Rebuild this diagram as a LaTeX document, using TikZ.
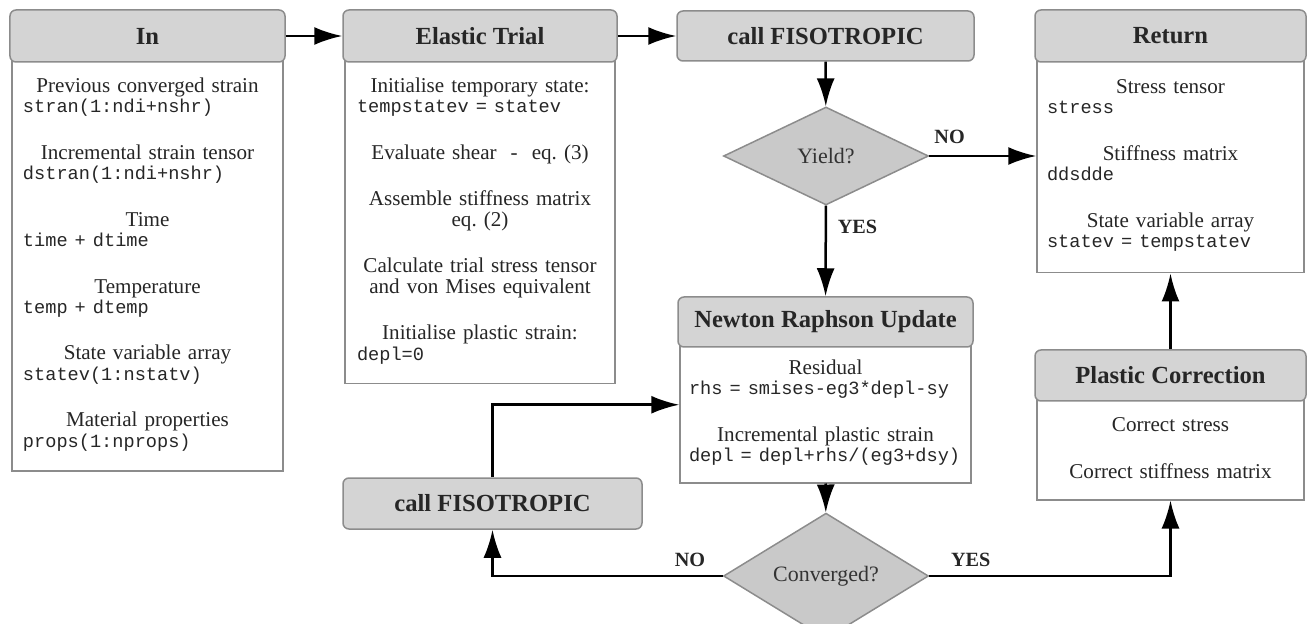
\documentclass[tikz,border=0pt]{standalone}
\usepackage{fontspec}
\setmainfont{Liberation Serif}
\setmonofont{Liberation Mono}
\usetikzlibrary{shapes.geometric,arrows.meta}

\definecolor{boxline}{rgb}{0.55,0.55,0.55}
\definecolor{headfill}{rgb}{0.83,0.83,0.83}
\definecolor{decfill}{rgb}{0.79,0.79,0.79}

% fortran names, left aligned in the box
\newcommand{\codeln}[1]{\makebox[\linewidth][l]{\fontsize{10.6pt}{11.5pt}\ttfamily #1}}

\tikzset{
  head/.style={draw=boxline, fill=headfill, line width=0.03cm, rounded corners=0.12cm,
    inner sep=0pt, minimum height=1.04cm, text=black!85,
    font=\fontsize{14pt}{16pt}\selectfont\bfseries},
  body/.style={draw=boxline, fill=white, line width=0.03cm, anchor=north, inner sep=0pt,
    align=center, text=black!85, font=\fontsize{12pt}{11.5pt}\selectfont},
  decision/.style={diamond, draw=boxline, fill=decfill, line width=0.03cm, inner sep=0pt,
    minimum width=4.1cm, minimum height=1.96cm, text=black!80,
    font=\fontsize{12.5pt}{14pt}\selectfont},
  flow/.style={line width=0.05cm, -{Latex[length=0.56cm,width=0.36cm]}},
  answer/.style={text=black!85, font=\fontsize{11.5pt}{13pt}\selectfont\bfseries}
}

\begin{document}
\begin{tikzpicture}
                \useasboundingbox (0,0) rectangle (26.18,-12.48);
                % input
                \node[body, text width=4.98cm, minimum width=5.42cm, minimum height=8.26cm] (inbody) at (2.95,-1.14) {
                    Previous converged strain\\
                    \codeln{stran(1:ndi+nshr)}\\[15.1pt]
                    Incremental strain tensor\\
                    \codeln{dstran(1:ndi+nshr)}\\[15.1pt]
                    Time\\
                    \codeln{time + dtime}\\[15.1pt]
                    Temperature\\
                    \codeln{temp + dtemp}\\[15.1pt]
                    State variable array\\
                    \codeln{statev(1:nstatv)}\\[15.1pt]
                    Material properties\\
                    \codeln{props(1:nprops)}};
                \node[head, minimum width=5.5cm] (inhead) at (2.95,-0.72) {In};
                % elastic trial
                \node[body, text width=4.92cm, minimum width=5.4cm, minimum height=6.52cm] (elbody) at (9.6,-1.14) {
                    Initialise temporary state:\\
                    \codeln{tempstatev = statev}\\[15.1pt]
                    Evaluate shear\ \ -\ \ eq.\ (3)\\[15.1pt]
                    Assemble stiffness matrix\\
                    eq.\ (2)\\[15.1pt]
                    Calculate trial stress tensor\\
                    and von Mises equivalent\\[15.1pt]
                    Initialise plastic strain:\\
                    \codeln{depl=0}};
                \node[head, minimum width=5.48cm] (elhead) at (9.6,-0.72) {Elastic Trial};
                % hardening call and yield check
                \node[head, minimum width=5.94cm, minimum height=1.0cm] (callA) at (16.51,-0.72) {call FISOTROPIC};
                \node[decision] (yield) at (16.52,-3.12) {Yield?};
                % output
                \node[body, text width=4.94cm, minimum width=5.34cm, minimum height=4.3cm] (retbody) at (23.41,-1.14) {
                    Stress tensor\\
                    \codeln{stress}\\[15.1pt]
                    Stiffness matrix\\
                    \codeln{ddsdde}\\[15.1pt]
                    State variable array\\
                    \codeln{statev = tempstatev}};
                \node[head, minimum width=5.42cm] (rethead) at (23.41,-0.72) {Return};
                % newton raphson loop
                \node[body, text width=5.46cm, minimum width=5.82cm, minimum height=2.8cm] (nrbody) at (16.51,-6.84) {
                    Residual\\
                    \codeln{rhs = smises-eg3*depl-sy}\\[15.1pt]
                    Incremental plastic strain\\
                    \codeln{depl = depl+rhs/(eg3+dsy)}};
                \node[head, minimum width=5.9cm, minimum height=1.0cm] (nrhead) at (16.51,-6.44) {Newton Raphson Update};
                \node[decision, minimum height=1.92cm] (conv) at (16.52,-11.52) {Converged?};
                \node[head, minimum width=5.98cm, minimum height=1.02cm] (callB) at (9.85,-10.07) {call FISOTROPIC};
                % plastic correction
                \node[body, text width=4.94cm, minimum width=5.34cm, minimum height=2.06cm] (plbody) at (23.41,-7.92) {
                    Correct stress\\[15.1pt]
                    Correct stiffness matrix};
                \node[head, minimum width=5.42cm, minimum height=1.02cm] (plhead) at (23.41,-7.51) {Plastic Correction};
                % arrows
                \draw[flow] (inhead) -- (elhead);
                \draw[flow] (elhead) -- (callA);
                \draw[flow] (callA) -- (yield);
                \draw[flow] (yield.east) -- (yield.east -| retbody.west) node[answer, pos=0.19, above=0.1cm] {NO};
                \draw[flow] (yield) -- (nrhead) node[answer, pos=0.23, right=0.1cm] {YES};
                \draw[flow] (nrbody) -- (conv);
                \draw[flow] (conv.east) -| (plbody.south) node[answer, pos=0.086, above=0.05cm] {YES};
                \draw[flow] (conv.west) -| (callB.south) node[answer, pos=0.071, above=0.05cm] {NO};
                \draw[flow] (callB.north) |- ([yshift=0.16cm]nrbody.west);
                \draw[flow] (plhead) -- (retbody);
\end{tikzpicture}
\end{document}
